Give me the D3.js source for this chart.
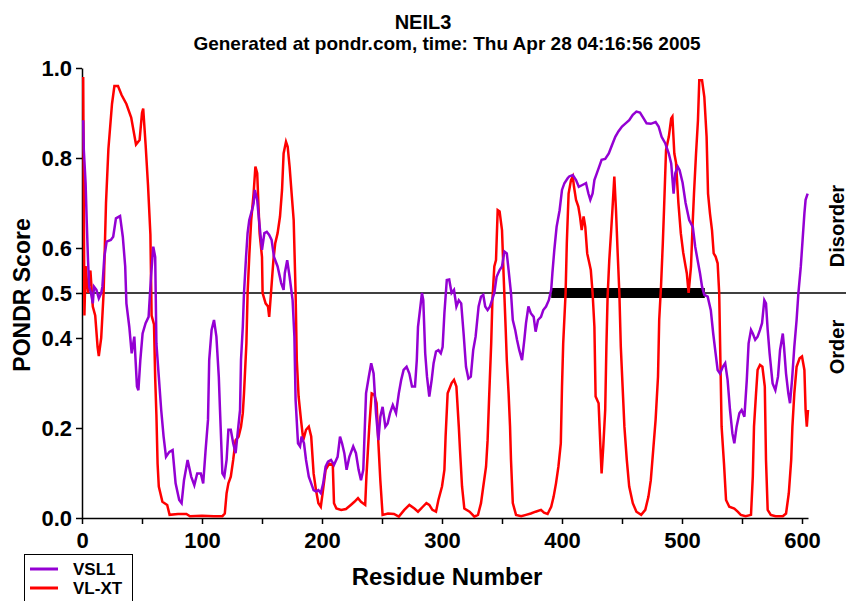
<html>
<head>
<script src="https://d3js.org/d3.v7.min.js"></script>
<style>
  body { margin: 0; background: #fff; }
  svg text { font-family: "Liberation Sans", Arial, sans-serif; font-weight: bold; fill: #000; }
</style>
</head>
<body>
<svg id="chart" width="847" height="601"></svg>
<script>
// PONDR predictions for NEIL3
var vslPos = [1,1.5,3,4,5,6,7.5,9,10,12,14,16,17,18.6,20.5,24,26,28.3,31.7,34,36,37,39.4,41.4,43.6,45.8,47,48.6,50.5,53,55.5,57.5,59.4,61,62,64,66,68,70,72.8,75.5,78,81,83,85,88,91,93.6,96,99,101,103,105,106,108,110,112,114,115,117,118.6,120.5,122,124,126,128,130,131.7,132.5,134,135,136.7,138,139.4,141.7,143,144,146,147,148.6,150,152,154,156,158,160,163,166,168,169,171,173,175.5,177,178,180,181.7,183,185,186.7,189,191,193,195,197,199,201,203,205,207.5,210,213,215,216.7,218.6,220.5,222.8,226,228.3,230.5,232.5,234.4,236.7,239,241,243,245,247,248.6,250.5,252.8,254.7,256.7,259,261.7,264,266,268,270.5,272.8,275,277.5,279,280,282,283.3,284.4,286,287.5,289.4,291.4,293,295,297,299,300.5,302,304,306,308,310,312,314,316,318,320,322,324,326,328,330.5,332.5,334.4,336,338,340,341.7,343.6,345.5,348,350,352,354,355.5,357.5,359,361,362.5,364.4,366.7,368.6,370,372,374,376.4,378,380,382.5,384.4,386.7,389,391,392,393.6,395.5,398,400,402,404.7,406,409,411.7,414,417,420,422,423.6,425.5,427,429,431,433,436,439,441.7,444.4,447,450,453,456,459,462,465,468,470.5,474,478,480.5,483,486,489,491,493,494.4,496.4,498,500.5,503,506,509,511,513,515,516.7,518.6,521.4,524,526,528,529.7,531.7,534,536,538,540,542,543.6,545.5,547.8,549.7,552,554,555.5,557.5,559,561,563,565,566.7,568.6,570,571.4,573,575.5,577.8,580,581.7,584,585,586.7,588.6,590,591.7,593.6,595.5,597,599,600.5,602,603,604.7];
var vslVal = [0.884,0.818,0.744,0.655,0.573,0.514,0.50,0.477,0.514,0.507,0.488,0.50,0.514,0.58,0.614,0.618,0.625,0.666,0.671,0.625,0.559,0.477,0.425,0.366,0.403,0.292,0.284,0.351,0.41,0.433,0.447,0.536,0.603,0.58,0.388,0.314,0.24,0.181,0.136,0.147,0.151,0.077,0.04,0.033,0.084,0.129,0.092,0.073,0.099,0.099,0.077,0.151,0.218,0.351,0.418,0.44,0.403,0.314,0.24,0.099,0.092,0.129,0.196,0.196,0.166,0.144,0.196,0.24,0.351,0.425,0.50,0.58,0.633,0.662,0.684,0.699,0.729,0.707,0.677,0.633,0.596,0.633,0.636,0.629,0.618,0.58,0.559,0.522,0.507,0.544,0.573,0.536,0.484,0.403,0.262,0.166,0.159,0.181,0.166,0.129,0.092,0.077,0.062,0.059,0.062,0.055,0.077,0.114,0.125,0.129,0.118,0.136,0.181,0.166,0.144,0.107,0.136,0.159,0.144,0.107,0.084,0.107,0.277,0.314,0.344,0.321,0.233,0.173,0.225,0.247,0.203,0.21,0.233,0.251,0.233,0.277,0.307,0.329,0.336,0.321,0.292,0.292,0.351,0.425,0.47,0.50,0.484,0.366,0.314,0.27,0.307,0.344,0.37,0.373,0.366,0.38,0.455,0.529,0.53,0.50,0.507,0.47,0.484,0.477,0.41,0.336,0.31,0.314,0.373,0.403,0.47,0.492,0.496,0.47,0.462,0.47,0.484,0.50,0.536,0.551,0.559,0.592,0.588,0.551,0.50,0.44,0.418,0.396,0.373,0.351,0.396,0.433,0.47,0.455,0.447,0.414,0.44,0.447,0.462,0.47,0.484,0.507,0.544,0.596,0.647,0.684,0.729,0.744,0.755,0.759,0.762,0.751,0.736,0.74,0.744,0.721,0.707,0.721,0.751,0.766,0.781,0.796,0.798,0.81,0.829,0.847,0.859,0.87,0.877,0.884,0.896,0.903,0.901,0.888,0.877,0.876,0.88,0.87,0.847,0.833,0.81,0.788,0.721,0.766,0.781,0.773,0.745,0.70,0.662,0.647,0.603,0.573,0.544,0.514,0.496,0.492,0.462,0.41,0.366,0.329,0.321,0.336,0.344,0.307,0.24,0.188,0.166,0.203,0.233,0.24,0.225,0.307,0.388,0.418,0.41,0.396,0.403,0.418,0.433,0.484,0.477,0.418,0.366,0.299,0.284,0.314,0.373,0.41,0.381,0.321,0.277,0.255,0.307,0.381,0.44,0.50,0.559,0.618,0.677,0.707,0.721];

var vlxtPos = [1,2,3,5,7,9,11,13,14,16,18,20,22,25,27,30,33,37,41,45,48,50,51,53,55,57,58,60,61,62,63,64,67,71,73,80,87,90,100,110,117,119,120.5,122,124,126,128,130.5,132.5,134,135,137,138,139.5,141,143,144.5,146,147,148,150,150.5,153,155,156,157.5,159.5,161,163,165,166.7,168,170,171.4,173,174.7,176.4,178,179,180.5,182.5,184.4,186.7,189,191,193,195,197,199,200.5,203,206,209,210,212,216,220,224,227,230,232.5,236,237,239.4,241.4,243.6,245.5,247,248.6,250.5,255,260,264,268.6,272.8,277,280,284,287,289.4,292,295,297,300,302,303,304.7,308,310,312,314,315,316.7,318.6,323,327,330,332.5,334.4,336.7,338,339.4,341,342,343.6,345,346.4,348,350,351.4,353,354,355.5,356.7,357.5,359,361.7,366,370,374,378,382.5,385,388,391,393,395,397,399,400,401,403,404,405.5,407.5,409,410,411.7,413.6,415,416.4,418,419.4,421,422.8,424,425.5,427,428,430.5,432,433,434.4,436,437,438,439.4,441,442,443.6,445,446.4,447.8,449,450.5,452,454,456,459,462,466,469.4,472,474,476,478,480,481,482.5,484,485,486.7,489,491,492,493.6,495,497,499,501,503,504,505.5,507.5,509,510,511.7,513.3,514.4,516.7,518.6,520.5,521.7,523.3,525,526.4,528,529.7,531,532,533,535,536.7,539.4,543.6,546.4,549,553,557.5,559,560,561.7,563,565,567,569,570,571.4,574,578,584,586.7,589,591,592,593.6,595.5,598,600,602,603,604,605];
var vlxtVal = [0.98,0.45,0.56,0.50,0.55,0.47,0.45,0.38,0.36,0.40,0.50,0.70,0.82,0.92,0.96,0.96,0.94,0.92,0.89,0.83,0.84,0.90,0.91,0.83,0.74,0.63,0.45,0.43,0.31,0.23,0.12,0.07,0.036,0.029,0.007,0.009,0.009,0.004,0.005,0.004,0.004,0.01,0.055,0.077,0.092,0.129,0.173,0.181,0.203,0.233,0.277,0.388,0.50,0.588,0.662,0.721,0.781,0.766,0.699,0.633,0.58,0.50,0.477,0.47,0.447,0.50,0.573,0.61,0.633,0.67,0.729,0.81,0.836,0.825,0.781,0.721,0.662,0.50,0.351,0.27,0.218,0.173,0.196,0.203,0.181,0.099,0.062,0.033,0.025,0.055,0.107,0.121,0.118,0.033,0.021,0.018,0.02,0.029,0.036,0.044,0.036,0.029,0.092,0.203,0.277,0.274,0.255,0.166,0.084,0.007,0.01,0.009,0.003,0.018,0.029,0.021,0.014,0.025,0.033,0.029,0.018,0.014,0.04,0.07,0.107,0.181,0.277,0.30,0.307,0.292,0.203,0.151,0.07,0.021,0.014,0.003,0.007,0.033,0.07,0.114,0.173,0.277,0.388,0.484,0.559,0.573,0.684,0.681,0.64,0.536,0.425,0.351,0.277,0.203,0.129,0.033,0.007,0.004,0.007,0.01,0.014,0.018,0.012,0.009,0.025,0.047,0.077,0.114,0.166,0.292,0.388,0.50,0.61,0.721,0.751,0.759,0.736,0.707,0.692,0.67,0.64,0.67,0.647,0.588,0.566,0.551,0.50,0.425,0.27,0.255,0.159,0.099,0.159,0.24,0.381,0.492,0.573,0.64,0.684,0.759,0.684,0.588,0.50,0.381,0.292,0.203,0.129,0.07,0.033,0.014,0.007,0.018,0.047,0.084,0.151,0.218,0.314,0.44,0.514,0.61,0.684,0.818,0.847,0.888,0.892,0.81,0.79,0.70,0.633,0.59,0.559,0.544,0.50,0.559,0.662,0.721,0.81,0.884,0.973,0.973,0.936,0.847,0.721,0.677,0.64,0.588,0.581,0.566,0.50,0.351,0.203,0.121,0.04,0.025,0.021,0.014,0.007,0.004,0.007,0.092,0.203,0.277,0.329,0.34,0.336,0.292,0.129,0.018,0.007,0.004,0.004,0.01,0.055,0.129,0.203,0.277,0.336,0.355,0.359,0.329,0.24,0.203,0.24];

var disorderStart = [391];
var disorderEnd = [519];
var yTicks = [0, 0.2, 0.4, 0.5, 0.6, 0.8, 1.0];
var xTicks = [0, 100, 200, 300, 400, 500, 600];
var xMinor = [50, 150, 250, 350, 450, 550];
var seqLength = 605;

var svg = d3.select("#chart");

var x = d3.scaleLinear().domain([0, seqLength]).range([82, 808]);
var y = d3.scaleLinear().domain([0, 1]).range([518, 68]);

// titles
svg.append("text").attr("x", 423).attr("y", 29).attr("text-anchor", "middle")
  .style("font-size", "20px").text("NEIL3");
svg.append("text").attr("x", 447).attr("y", 50).attr("text-anchor", "middle")
  .style("font-size", "19px").text("Generated at pondr.com, time: Thu Apr 28 04:16:56 2005");

// axes
var yAxis = d3.axisLeft(y).tickValues(yTicks).tickFormat(d3.format(".1f"))
  .tickSize(6).tickSizeOuter(0).tickPadding(4);
var gy = svg.append("g").attr("transform", "translate(82,0)").call(yAxis);

var xAxis = d3.axisBottom(x).tickValues(xTicks).tickFormat(d3.format("d"))
  .tickSize(6).tickSizeOuter(0).tickPadding(8);
var gx = svg.append("g").attr("transform", "translate(0,518)").call(xAxis);
var gxm = svg.append("g").attr("transform", "translate(0,518)")
  .call(d3.axisBottom(x).tickValues(xMinor).tickFormat("").tickSize(6).tickSizeOuter(0));
gxm.select(".domain").remove();

svg.selectAll(".tick text").style("font-size", "22px").style("font-family", "'Liberation Sans', Arial, sans-serif").style("font-weight", "bold");
svg.selectAll(".domain, .tick line").attr("stroke", "#000").attr("stroke-width", 1.5);

// 0.5 threshold
svg.append("line").attr("x1", x(0)).attr("x2", 846).attr("y1", y(0.5)).attr("y2", y(0.5))
  .attr("stroke", "#000").attr("stroke-width", 1.5);

// disordered regions
svg.selectAll(".region").data(disorderStart).enter().append("rect")
  .attr("x", function(d) { return x(d); })
  .attr("width", function(d, i) { return x(disorderEnd[i]) - x(d); })
  .attr("y", y(0.5) - 5).attr("height", 10).attr("fill", "#000");

// series
var line = d3.line().x(function(d) { return x(d[0]); }).y(function(d) { return y(d[1]); });
var vsl = vslPos.map(function(p, i) { return [p, vslVal[i]]; });
var vlxt = vlxtPos.map(function(p, i) { return [p, vlxtVal[i]]; });

svg.append("path").datum(vlxt).attr("d", line).attr("fill", "none")
  .attr("stroke", "#ff0000").attr("stroke-width", 2.5);
svg.append("path").datum(vsl).attr("d", line).attr("fill", "none")
  .attr("stroke", "#9400d3").attr("stroke-width", 2.5);

// axis labels
svg.append("text").attr("transform", "translate(30,295) rotate(-90)").attr("text-anchor", "middle")
  .style("font-size", "23px").text("PONDR Score");
svg.append("text").attr("x", 447).attr("y", 585).attr("text-anchor", "middle")
  .style("font-size", "24px").text("Residue Number");
svg.append("text").attr("transform", "translate(844,226) rotate(-90)").attr("text-anchor", "middle")
  .style("font-size", "20px").text("Disorder");
svg.append("text").attr("transform", "translate(844,347) rotate(-90)").attr("text-anchor", "middle")
  .style("font-size", "20px").text("Order");

// legend
var legNames = ["VSL1", "VL-XT"];
var legColors = ["#9400d3", "#ff0000"];
svg.append("rect").attr("x", 24.5).attr("y", 554.5).attr("width", 108).attr("height", 60)
  .attr("fill", "none").attr("stroke", "#000").attr("stroke-width", 1);
legNames.forEach(function(n, i) {
  var ly = 569 + i * 19;
  svg.append("line").attr("x1", 30).attr("x2", 58).attr("y1", ly).attr("y2", ly)
    .attr("stroke", legColors[i]).attr("stroke-width", 3);
  svg.append("text").attr("x", 73).attr("y", ly + 6).style("font-size", "17px").text(n);
});
</script>
</body>
</html>
